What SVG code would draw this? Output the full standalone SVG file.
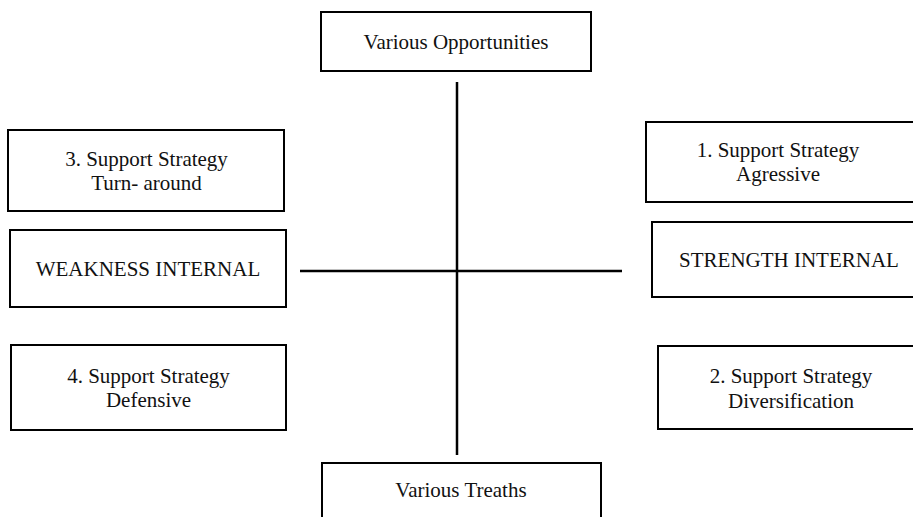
<svg xmlns="http://www.w3.org/2000/svg" width="913" height="517" viewBox="0 0 913 517">
<style>
.box{fill:#fff;stroke:#000;stroke-width:2}
.t{font-family:"Liberation Serif","Times New Roman",serif;font-size:21px;fill:#111;text-anchor:middle}
.ln{stroke:#000;stroke-width:2.5;fill:none}
</style>
<rect width="913" height="517" fill="#fff"/>
<g id="connectors">
<line class="ln" x1="457" y1="82" x2="457" y2="455"/>
<line class="ln" x1="300" y1="271" x2="622" y2="271"/>
</g>
<g id="opportunities"><rect class="box" x="321" y="12" width="270" height="59"/><text class="t" x="456" y="49">Various Opportunities</text></g>
<g id="turnaround"><rect class="box" x="8" y="130" width="276" height="81"/><text class="t" x="146.5" y="166">3. Support Strategy</text><text class="t" x="146.5" y="190">Turn- around</text></g>
<g id="weakness"><rect class="box" x="10" y="230" width="276" height="77"/><text class="t" x="148" y="276">WEAKNESS INTERNAL</text></g>
<g id="agressive"><rect class="box" x="646" y="122" width="280" height="80"/><text class="t" x="778" y="157">1. Support Strategy</text><text class="t" x="778" y="181">Agressive</text></g>
<g id="strength"><rect class="box" x="652" y="222" width="280" height="75"/><text class="t" x="789" y="267">STRENGTH INTERNAL</text></g>
<g id="defensive"><rect class="box" x="11" y="345" width="275" height="85"/><text class="t" x="148.5" y="383">4. Support Strategy</text><text class="t" x="148.5" y="407">Defensive</text></g>
<g id="diversification"><rect class="box" x="658" y="346" width="280" height="83"/><text class="t" x="791" y="383">2. Support Strategy</text><text class="t" x="791" y="408">Diversification</text></g>
<g id="treaths"><rect class="box" x="322" y="463" width="279" height="70"/><text class="t" x="461" y="497">Various Treaths</text></g>
</svg>
